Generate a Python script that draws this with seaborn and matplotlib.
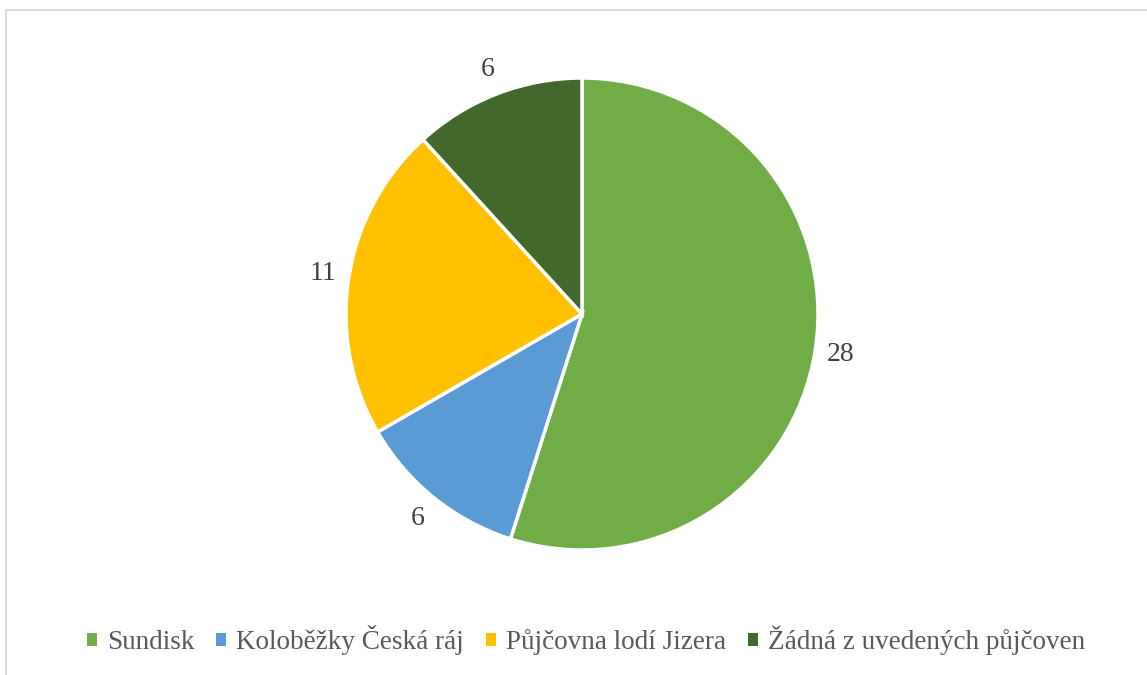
import seaborn as sns
import matplotlib.pyplot as plt
from matplotlib.patches import Rectangle, Patch

# data
rental_names = ['Sundisk', 'Koloběžky Česká ráj', 'Půjčovna lodí Jizera', 'Žádná z uvedených půjčoven']
counts = [28, 6, 11, 6]
slice_colors = ['#70AD47', '#5B9BD5', '#FFC000', '#43682B']

sns.set_theme(style='white')
plt.rcParams['font.family'] = ['Liberation Serif', 'DejaVu Serif']

fig = plt.figure(figsize=(11.47, 6.75), dpi=100)
fig.patch.set_facecolor('white')

palette = sns.color_palette(slice_colors)

# pie axes: centre ~(582, 314) px, radius ~236 px
ax = fig.add_axes([(582 - 236) / 1147, (675 - 314 - 236) / 675, 472 / 1147, 472 / 675])
wedges, texts = ax.pie(counts, labels=[str(c) for c in counts], colors=palette,
                       startangle=90, counterclock=False, labeldistance=1.11,
                       wedgeprops=dict(edgecolor='white', linewidth=2.5),
                       textprops=dict(fontsize=20, color='#404040'))
for t in texts:
    t.set_ha('center')
    t.set_va('center')
ax.set_xlim(-1, 1)
ax.set_ylim(-1, 1)
ax.set_aspect('equal')
ax.axis('off')

handles = [Patch(facecolor=c, edgecolor='none') for c in palette]
fig.legend(handles, rental_names, loc='center', bbox_to_anchor=(586 / 1147, 1 - 640 / 675),
           ncol=4, frameon=False, fontsize=19.5, labelcolor='#595959',
           handlelength=0.37, handleheight=0.37, handletextpad=0.37, columnspacing=0.8)

# light grey chart frame (top and left edges visible)
fig.add_artist(Rectangle((5.5 / 1147, -0.05), 1.2, 1 - 9.5 / 675 + 0.05, transform=fig.transFigure,
                         fill=False, edgecolor='#D9D9D9', linewidth=1.5))

fig.savefig('out.png', dpi=100)
